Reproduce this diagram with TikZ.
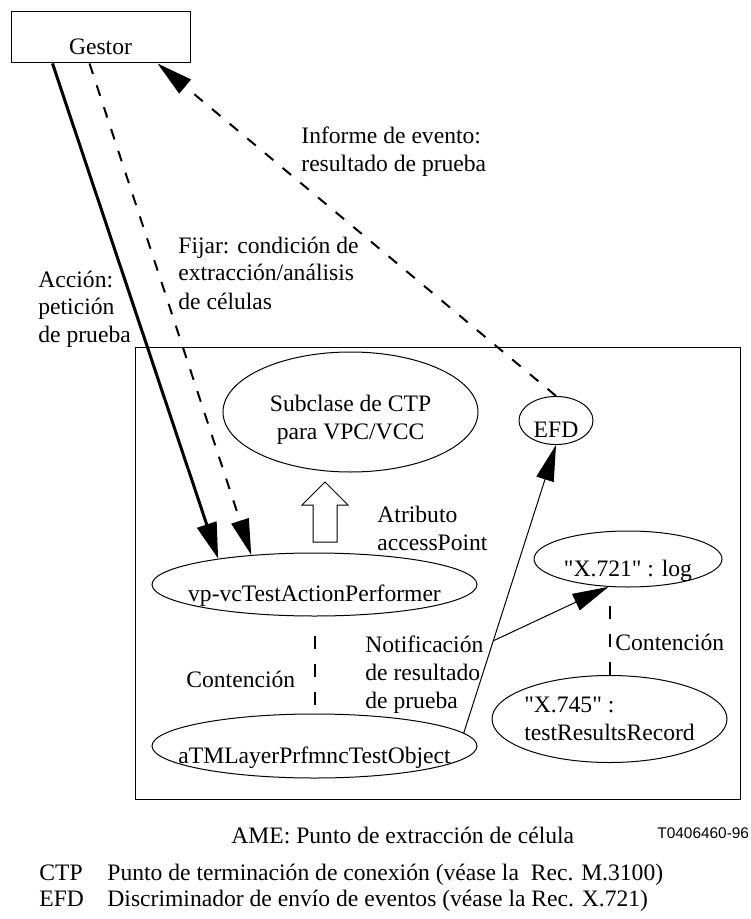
\documentclass[tikz,border=0pt]{standalone}
\usepackage{fontspec}
\setmainfont{Liberation Serif}
\newfontfamily\refsans{Liberation Sans}
\usetikzlibrary{shapes.geometric,arrows.meta,calc,positioning}
% straight double quote, not touched by the TeX ligature mapping
\newcommand\sq{\XeTeXglyph\XeTeXcharglyph"22\relax}

\begin{document}
\begin{tikzpicture}[
    x=0.5pt, y=-0.5pt,
    every node/.style={font=\fontsize{11.8}{14}\selectfont},
    obj/.style={ellipse, draw, line width=0.5pt, inner sep=0pt},
    lowtext/.style={text height=17pt, text depth=0pt},
    lbl/.style={anchor=base west, align=left, inner sep=0pt},
    tip/.style={-{Triangle[length=18pt,width=9pt]}},
    bigtip/.style={-{Triangle[length=18pt,width=10pt]}},
    dashline/.style={line width=1pt, dash pattern=on 5.5pt off 6pt},
    contain/.style={line width=1pt, dash pattern=on 6.5pt off 7.5pt}
]

\useasboundingbox (0,0) rectangle (750,919);

% Manager box
\node[
    draw,
    line width=0.5pt,
    minimum width=89.5pt,
    minimum height=25.5pt,
    text height=17.5pt,
    text depth=0pt,
    inner sep=0pt
] (gestor) at (100.5,37.5) {Gestor};

% AME frame
\draw[line width=0.5pt] (135,347) rectangle (740,799);

% Managed objects
\node[obj, align=center, text height=30.5pt, minimum width=127.5pt, minimum height=60pt] (ctp) at (350.5,412) {Subclase de CTP\\para VPC/VCC};
\node[obj, lowtext, minimum width=37pt, minimum height=23.5pt] (efd) at (556,420.5) {EFD};
\node[obj, lowtext, inner xsep=-6.5pt, minimum width=162.5pt, minimum height=31.5pt] (vp) at (314.5,584.5) {vp-vcTestActionPerformer};
\node[obj, lowtext, inner xsep=-11pt, minimum width=162.5pt, minimum height=32pt] (atml) at (314.5,746) {aTMLayerPrfmncTestObject};
\node[obj, lowtext, minimum width=94pt, minimum height=28pt] (log) at (628,559) {\sq X.721\sq{} : log};
\node[obj, align=left, inner xsep=-2pt, minimum width=117.5pt, minimum height=43.5pt] (rec) at (609.5,719) {\sq X.745\sq{} :\\testResultsRecord};

% accessPoint attribute (hollow arrow)
\draw[line width=0.5pt] (313,542) -- (313,505) -- (302,505) -- (325,482) -- (348,505) -- (337,505) -- (337,542) -- cycle;

% Manager operations
\draw[bigtip, line width=1.5pt] ([xshift=21pt]gestor.south west) -- (vp.165);
\draw[tip, dashline] ([xshift=39.5pt]gestor.south west) -- (vp.155);
\draw[tip, dashline] (efd.north) -- ([xshift=73.5pt]gestor.south west);

% Test result notification
\coordinate (split) at ($(atml.5)!0.32!(efd.south)$);
\draw[tip, line width=0.5pt] (atml.5) -- (efd.south);
\draw[tip, line width=0.5pt] (split) -- (log.235);

% Containment
\draw[contain] ([yshift=-9.5pt]vp.south) -- ([yshift=4.5pt]atml.north);
\draw[contain] ([yshift=-9pt]log.south -| rec.north) -- (rec.north);

% Labels (anchored on the last line)
\node[lbl] (actlbl) at (38,343) {Acción:\\petición\\de prueba};
\node[lbl] (setlbl) at (178,309) {Fijar: condición de\\extracción/análisis\\de células};
\node[lbl] (evlbl) at (301,172) {Informe de evento:\\resultado de prueba};
\node[lbl] (attrlbl) at (377,550) {Atributo\\accessPoint};
\node[lbl] (notlbl) at (365,708) {Notificación\\de resultado\\de prueba};
\node[lbl] (contlbl) at (186,687) {Contención};
\node[lbl] (contlbl2) at (615,650) {Contención};

% Caption and key
\node[lbl] (amelbl) at (231,843) {AME: Punto de extracción de célula};
\node[lbl, font=\refsans\fontsize{7.7}{9}\selectfont] (figref) at (657,838) {T0406460-96};
\node[lbl] (ctpkey) at (39,880) {CTP};
\node[lbl] (ctptxt) at (107,880) {Punto de terminación de conexión (véase la\ \ Rec. M.3100)};
\node[lbl] (efdkey) at (39,906) {EFD};
\node[lbl] (efdtxt) at (107,906) {Discriminador de envío de eventos (véase la Rec. X.721)};

\end{tikzpicture}
\end{document}
